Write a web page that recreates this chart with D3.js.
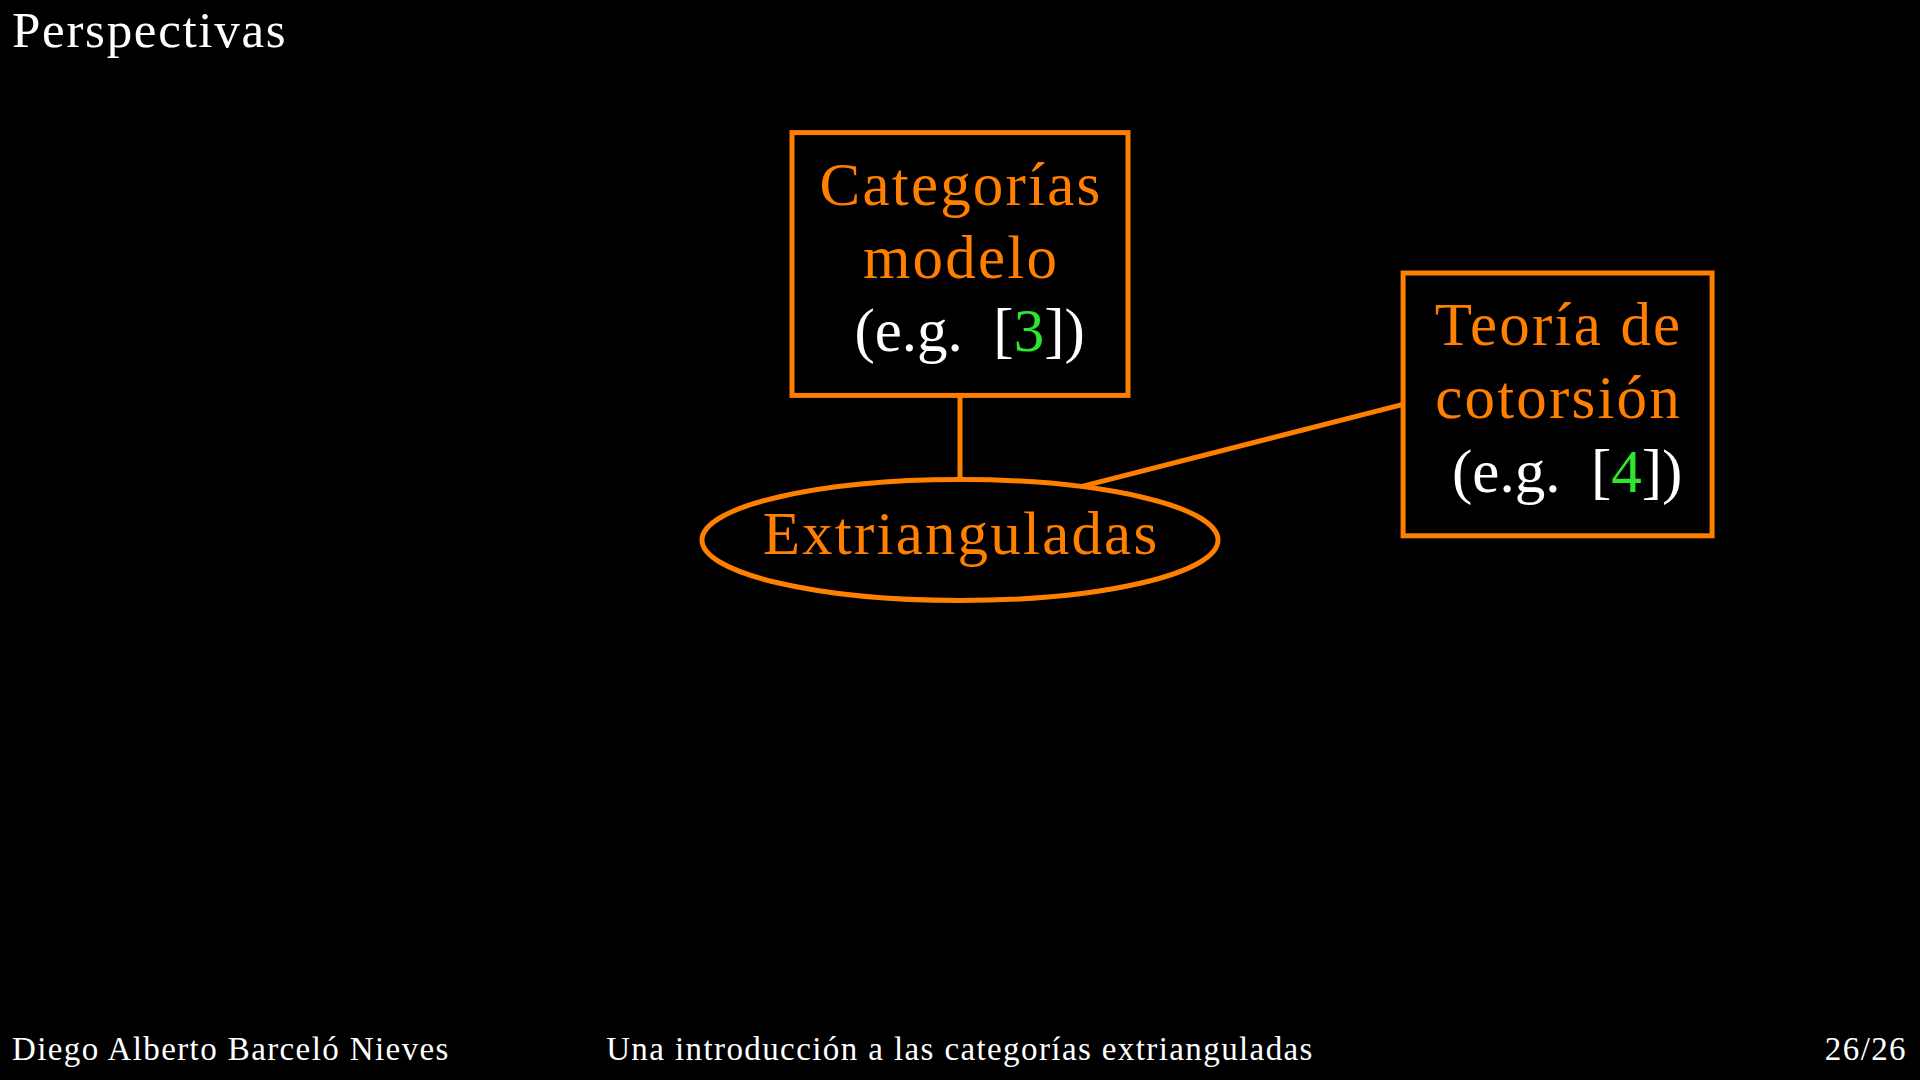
<html>
    <head>
        <meta charset="utf-8">
        <script src="https://d3js.org/d3.v7.min.js"></script>
        <style>
            body {
            margin: 0;
            background: #000;
            }
            svg {
            font-family: "Liberation Serif", "DejaVu Serif", serif;
            display: block;
            }
        </style>
    </head>
    <body>
        <div id="chart"></div>
        <script>
        /* Slide content */
        var slideTitle = "Perspectivas";
        var footerTexts = ["Diego Alberto Barceló Nieves",
                           "Una introducción a las categorías extrianguladas",
                           "26/26"];

        var nodeIds = ["modelo", "extri", "cotorsion"];
        var nodeLabels = [["Categorías", "modelo"], ["Extrianguladas"], ["Teoría de", "cotorsión"]];
        var nodeRefs = [3, null, 4];
        var edgeList = [["modelo", "extri"], ["cotorsion", "extri"]];

        /* Layout in slide centimetres (beamer 16 x 9) */
        var layout = {
            modelo:    {x: 8,     y: 2.2,  w: 2.8,   h: 2.19, shape: "rect"},
            extri:     {x: 8,     y: 4.5,  w: 4.3,   h: 1.008, shape: "ellipse"},
            cotorsion: {x: 12.98, y: 3.37, w: 2.575, h: 2.19, shape: "rect"}
        };
        // where each edge meets its nodes: "s"/"w" side or angle (deg) on the ellipse
        var edgeAnchors = [["s", 90], ["w", 62]];

        var width = 1920;
        var height = 1080;
        var orange = "#ff7f00";
        var green = "#2fe62f";
        var strokeW = 5;
        var lineH = 0.61;     // cm
        var fontNode = 61;
        var baseShift = 14;

        var x = d3.scaleLinear().domain([0, 16]).range([0, width]);
        var y = d3.scaleLinear().domain([0, 9]).range([0, height]);
        var len = d3.scaleLinear().domain([0, 16]).range([0, width]);

        var svg = d3.select("#chart").append("svg")
            .attr("width", width)
            .attr("height", height);

        svg.append("rect")
            .attr("width", width).attr("height", height)
            .attr("fill", "#000");

        /* Title */
        svg.append("text")
            .attr("x", 12)
            .attr("y", 47)
            .attr("fill", "#fff")
            .style("font-size", "51px")
            .style("letter-spacing", "1.7px")
            .text(slideTitle);

        /* Anchor helper */
        function anchor(id, a) {
            var n = layout[id];
            var cx = x(n.x), cy = y(n.y), hw = len(n.w) / 2, hh = len(n.h) / 2;
            if (n.shape === "ellipse") {
                var t = a * Math.PI / 180;
                return [cx + hw * Math.cos(t), cy - hh * Math.sin(t)];
            }
            if (a === "s") return [cx, cy + hh];
            if (a === "n") return [cx, cy - hh];
            if (a === "w") return [cx - hw, cy];
            return [cx + hw, cy];
        }

        /* Edges */
        svg.append("g").selectAll("line")
            .data(edgeList).enter()
            .append("line")
            .each(function(d, i) {
                var p = anchor(d[0], edgeAnchors[i][0]);
                var q = anchor(d[1], edgeAnchors[i][1]);
                d3.select(this)
                    .attr("x1", p[0]).attr("y1", p[1])
                    .attr("x2", q[0]).attr("y2", q[1]);
            })
            .attr("stroke", orange)
            .attr("stroke-width", strokeW);

        /* Nodes */
        var nodes = svg.append("g").selectAll("g")
            .data(nodeIds).enter()
            .append("g")
            .attr("transform", d => `translate(${x(layout[d].x)}, ${y(layout[d].y)})`);

        nodes.each(function(d) {
            var n = layout[d];
            var g = d3.select(this);
            if (n.shape === "ellipse") {
                g.append("ellipse")
                    .attr("rx", len(n.w) / 2)
                    .attr("ry", len(n.h) / 2);
            } else {
                g.append("rect")
                    .attr("x", -len(n.w) / 2)
                    .attr("y", -len(n.h) / 2)
                    .attr("width", len(n.w))
                    .attr("height", len(n.h));
            }
        });
        nodes.selectAll("rect, ellipse")
            .attr("fill", "#000")
            .attr("stroke", orange)
            .attr("stroke-width", strokeW);

        nodes.each(function(d, i) {
            var g = d3.select(this);
            var lines = nodeLabels[i].slice();
            var n = lines.length + (nodeRefs[i] != null ? 1 : 0);
            var off = k => len((k - (n - 1) / 2) * lineH) + baseShift;

            lines.forEach(function(t, k) {
                g.append("text")
                    .attr("x", 1)
                    .attr("y", off(k))
                    .attr("text-anchor", "middle")
                    .attr("fill", orange)
                    .style("font-size", fontNode + "px")
                    .style("letter-spacing", "2.2px")
                    .text(t);
            });

            if (nodeRefs[i] != null) {
                var ref = g.append("text")
                    .attr("x", 2)
                    .attr("y", off(lines.length))
                    .attr("text-anchor", "middle")
                    .attr("fill", "#fff")
                    .style("font-size", fontNode + "px");
                ref.append("tspan").text("\u00a0(e.g.\u00a0 [");
                ref.append("tspan").attr("fill", green).text(nodeRefs[i]);
                ref.append("tspan").text("])");
            }
        });

        /* Footer */
        var footerX = [12, 960, 1907];
        var footerAnchor = ["start", "middle", "end"];
        svg.append("g").selectAll("text")
            .data(footerTexts).enter()
            .append("text")
            .attr("x", (d, i) => footerX[i])
            .attr("y", 1060)
            .attr("text-anchor", (d, i) => footerAnchor[i])
            .attr("fill", "#fff")
            .style("font-size", "33px")
            .style("letter-spacing", "1.4px")
            .text(d => d);
    </script>
  </body>
</html>
